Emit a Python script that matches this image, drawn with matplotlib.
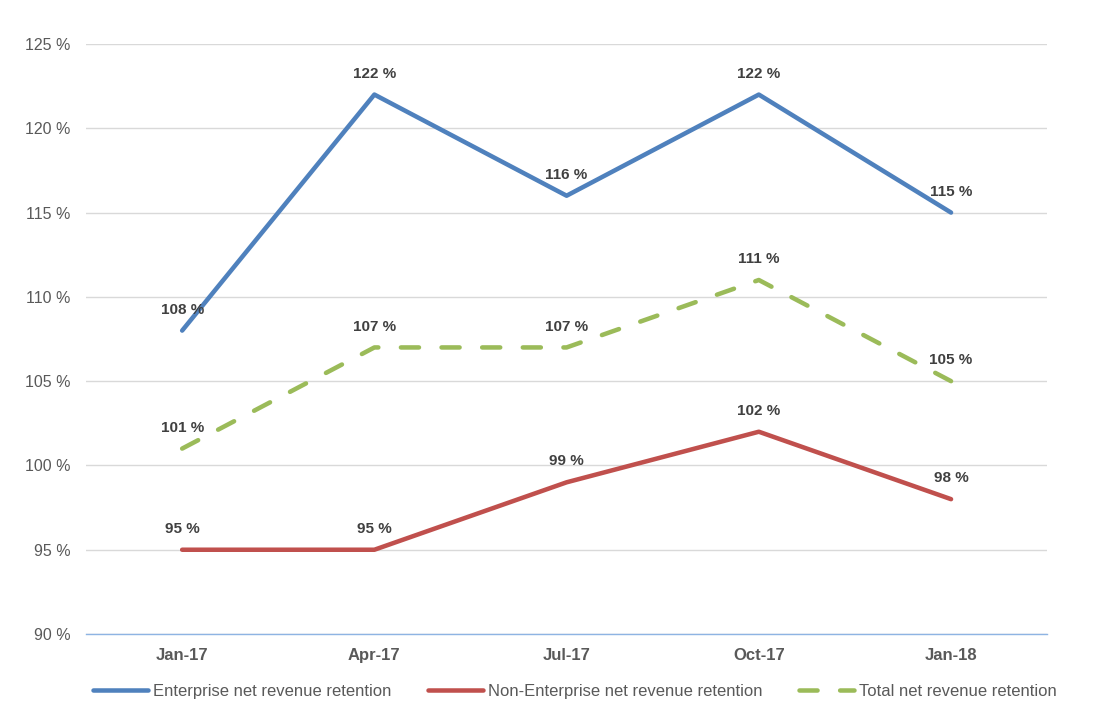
import matplotlib
matplotlib.use('Agg')
import matplotlib.pyplot as plt

# data
categories = ['Jan-17', 'Apr-17', 'Jul-17', 'Oct-17', 'Jan-18']
enterprise = [108, 122, 116, 122, 115]
non_enterprise = [95, 95, 99, 102, 98]
total = [101, 107, 107, 111, 105]
series_names = ['Enterprise net revenue retention',
                'Non-Enterprise net revenue retention',
                'Total net revenue retention']
y_ticks = [90, 95, 100, 105, 110, 115, 120, 125]

plt.rcParams['font.family'] = ['Liberation Sans', 'DejaVu Sans']

fig = plt.figure(figsize=(11.06, 7.2), dpi=100)
ax = fig.add_axes([0.0778, 0.1194, 0.869, 0.8195])

x = list(range(len(categories)))
lw = 3.25

l1, = ax.plot(x, enterprise, color='#4F81BD', lw=lw, solid_capstyle='round',
              label=series_names[0])
l2, = ax.plot(x, non_enterprise, color='#C0504D', lw=lw, solid_capstyle='round',
              label=series_names[1])
l3, = ax.plot(x, total, color='#9BBB59', lw=lw, dash_capstyle='round',
              label=series_names[2])
l3.set_dashes((4.0, 5.0))

# data labels above points
for vals in (enterprise, non_enterprise, total):
    for xi, v in zip(x, vals):
        ax.annotate('%d %%' % v, (xi, v), xytext=(0, 10), textcoords='offset points',
                    ha='center', va='bottom', fontsize=11, fontweight='bold',
                    color='#404040')

ax.set_xlim(-0.5, len(categories) - 0.5)
ax.set_ylim(90, 125)
ax.set_yticks(y_ticks)
ax.set_yticklabels(['%d %%' % t for t in y_ticks], fontsize=11.5, color='#595959')
ax.set_xticks(x)
ax.set_xticklabels(categories, fontsize=12, fontweight='bold', color='#595959')
ax.tick_params(length=0)
ax.tick_params(axis='y', pad=11)
ax.tick_params(axis='x', pad=10)

ax.grid(axis='y', color='#D9D9D9', lw=1)
ax.set_axisbelow(True)
for s in ['top', 'right', 'left']:
    ax.spines[s].set_visible(False)
ax.spines['bottom'].set_color('#8EB4E3')
ax.spines['bottom'].set_linewidth(1)

fig.legend(handles=[l1, l2, l3], loc='center', bbox_to_anchor=(0.52, 0.04),
           ncol=3, frameon=False, fontsize=12, handlelength=3.3,
           columnspacing=2.2, handletextpad=0.3, labelcolor='#595959')

fig.savefig('out.png', dpi=100)
